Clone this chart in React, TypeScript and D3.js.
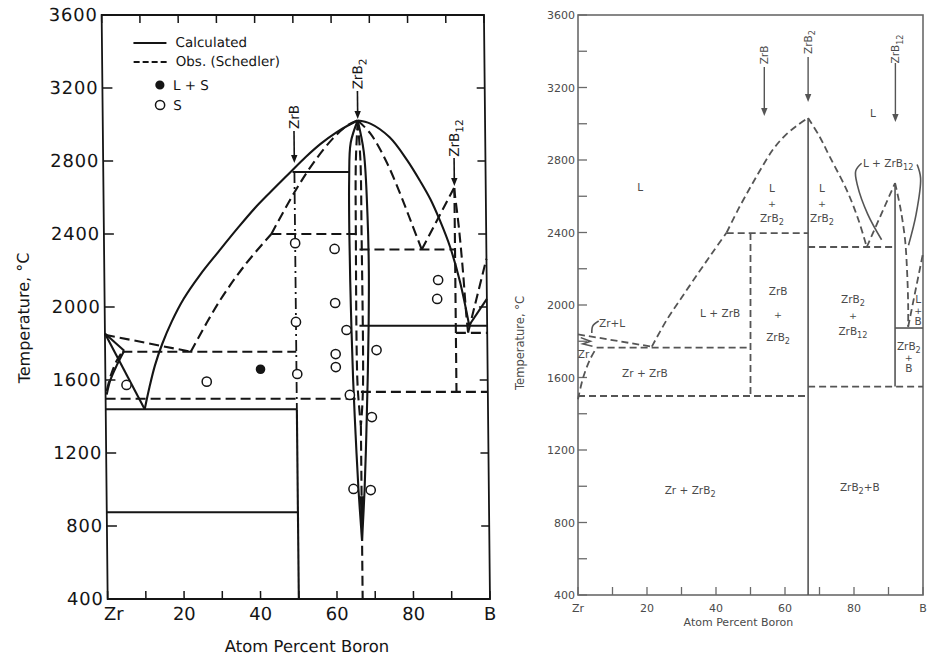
import React from 'react';
import * as d3 from 'd3';

type P = [number, number];

// ---------- axes ----------
const tempTicks = [400, 800, 1200, 1600, 2000, 2400, 2800, 3200, 3600];
const tempMinor = d3.range(400, 3601, 200);
const compTicks = [0, 20, 40, 60, 80, 100];
const compTickText = ['Zr', '20', '40', '60', '80', 'B'];
const compMinor = d3.range(0, 101, 10);

// ---------- left diagram: calculated boundaries (solid) ----------
const calcLiqZr: P[] = [[0, 1855], [10.2, 1440]];
const calcSolZr: P[] = [[0, 1855], [5, 1760]];
const calcSolvZr: P[] = [[5, 1760], [3, 1680], [1.3, 1600], [0.3, 1520]];
const calcLiqZrB2: P[] = [[10.2, 1440], [11.5, 1560], [13, 1680], [15, 1800], [17.5, 1920], [20.7, 2045], [25, 2175], [30, 2305], [35, 2432], [40, 2552], [45, 2657], [49, 2740], [53, 2822], [57, 2895], [61, 2955], [64, 2993], [66.7, 3022]];
const calcLiqB: P[] = [[66.7, 3022], [70, 3005], [75, 2930], [79.5, 2805], [83, 2685], [85.5, 2590], [88, 2470], [90.5, 2330], [93, 2140], [95.3, 1900]];
const calcLiqBEnd: P[] = [[95.3, 1900], [100, 2045]];
const calcPeritectic: P[] = [[49.5, 2740], [64.3, 2740]];
const calcZrBHigh: P[] = [[50, 2740], [50, 1440]];
const calcZrBLow: P[] = [[50, 1440], [50, 400]];
const calcEutectic: P[] = [[0, 1440], [50, 1440]];
const calcTransition: P[] = [[0, 875], [50, 875]];
const calcLensL: P[] = [[66.7, 3022], [64.8, 2900], [64.3, 2700], [64.2, 2400], [64.4, 2000], [64.8, 1600], [65.3, 1300], [65.9, 1000], [66.7, 720]];
const calcLensR: P[] = [[66.7, 3022], [68.2, 2850], [69, 2500], [69.2, 2200], [69, 1900], [68.6, 1600], [68.1, 1300], [67.5, 1000], [66.7, 720]];
const calcEutecticB: P[] = [[66.6, 1897], [100, 1897]];
const calcWedge: P[] = [[66.2, 960], [67.2, 960], [66.7, 720]];

// ---------- left diagram: observed boundaries, Schedler (dashed) ----------
const obsLiqZr: P[] = [[0, 1848], [22.4, 1755]];
const obsSolZr: P[] = [[0.3, 1540], [1.5, 1630], [3, 1705], [4.5, 1755]];
const obsLiqLow: P[] = [[22.4, 1755], [30, 2030], [37, 2235], [43.8, 2400]];
const obsLiqHigh: P[] = [[43.8, 2400], [50, 2630], [55, 2790], [60, 2920], [64, 2995], [66.7, 3022]];
const obsPeritectic: P[] = [[43.8, 2400], [66.3, 2400]];
const obsEutectic: P[] = [[4.5, 1755], [50, 1755]];
const obsLow: P[] = [[0, 1497], [66.5, 1497]];
const obsZrB2A: P[] = [[66.7, 3022], [66.1, 2800], [65.9, 2400], [65.9, 1600], [66.3, 1450], [66.7, 1350]];
const obsZrB2B: P[] = [[66.7, 3022], [67.3, 2800], [67.4, 2400], [67.4, 1600], [67.1, 1450], [66.7, 1350]];
const obsZrB2Stem: P[] = [[66.7, 1350], [66.7, 400]];
const obsLiqB: P[] = [[66.7, 3022], [70, 2950], [74, 2800], [77.8, 2610], [80.5, 2460], [83.1, 2315]];
const obsZrB12L: P[] = [[83.1, 2315], [91.7, 2652]];
const obsPeritecticB: P[] = [[66.8, 2315], [91.8, 2315]];
const obsZrB12V: P[] = [[91.8, 2652], [91.8, 1535]];
const obsZrB12R: P[] = [[91.7, 2652], [92.8, 2450], [93.8, 2200], [94.6, 1950], [95, 1860]];
const obsLiqBEnd: P[] = [[95, 1860], [100, 2265]];
const obsEutecticB: P[] = [[91.8, 1858], [100, 1858]];
const obsLowB: P[] = [[66.8, 1535], [100, 1535]];

// ---------- left diagram: experimental points ----------
const solidOnly: P[] = [
  [5.5, 1573], [26.5, 1591], [50, 2350], [60.3, 2318], [60.3, 2022], [50, 1918],
  [63.2, 1874], [71, 1764], [60.3, 1742], [60.3, 1671], [50.2, 1633], [63.9, 1518],
  [69.6, 1397], [87.3, 2148], [87, 2044], [64.6, 1003], [69.1, 997],
];
const liquidPlusSolid: P[] = [[40.6, 1659]];

const leftCompounds = [
  { name: 'ZrB', at: 50 },
  { name: 'ZrB2', at: 66.7 },
  { name: 'ZrB12', at: 91.8 },
];

// ---------- right diagram ----------
const rLiqZr: P[] = [[0, 1838], [21.4, 1770]];
const rSolZr: P[] = [[0, 1480], [1.5, 1600], [3.5, 1700], [5.4, 1765]];
const rZrCorner: P[] = [[0.8, 1820], [3.6, 1800], [1.4, 1785], [4.2, 1772]];
const rLiqLow: P[] = [[21.4, 1770], [25.7, 1917], [30, 2040], [35, 2180], [39, 2290], [43.1, 2400]];
const rLiqHigh: P[] = [[43.1, 2400], [46.5, 2530], [50, 2651], [53, 2750], [56.6, 2860], [60, 2935], [63.5, 2990], [66.7, 3032]];
const rPeritectic: P[] = [[43.1, 2397], [66.7, 2397]];
const rZrB: P[] = [[50, 2397], [50, 1498]];
const rLow: P[] = [[0, 1498], [66.7, 1498]];
const rEutectic: P[] = [[5.4, 1765], [50, 1765]];
const rZrB2: P[] = [[66.7, 3032], [66.7, 400]];
const rLiqB: P[] = [[66.7, 3032], [70, 2930], [73, 2817], [77.9, 2634], [81.3, 2469], [83.7, 2320]];
const rZrB12L: P[] = [[83.7, 2320], [91.9, 2673]];
const rPeritecticB: P[] = [[66.7, 2320], [91.9, 2320]];
const rZrB12: P[] = [[91.9, 2673], [91.9, 1550]];
const rZrB12R: P[] = [[91.9, 2673], [93.5, 2530], [94.8, 2360], [95.4, 2180], [95.7, 2000], [95.7, 1880]];
const rLiqBEnd: P[] = [[95.7, 1880], [100, 2285]];
const rEutecticB: P[] = [[91.9, 1873], [100, 1873]];
const rLowB: P[] = [[66.7, 1550], [100, 1550]];
const rLassoL: P[] = [[82.2, 2782], [80.5, 2740], [81, 2660], [84, 2500], [88, 2360]];
const rLassoR: P[] = [[98.3, 2775], [99.3, 2700], [98, 2500], [95.8, 2330]];
const rZrLHook: P[] = [[6, 1912], [4.3, 1885], [4, 1845]];

const rightCompounds = [
  { name: 'ZrB', at: 54 },
  { name: 'ZrB2', at: 66.7 },
  { name: 'ZrB12', at: 92 },
];

const regionLabels = [
  { lines: ['L'], p: 18, t: 2651, lead: 15 },
  { lines: ['L'], p: 85.5, t: 3059, lead: 15 },
  { lines: ['L', '+', 'ZrB2'], p: 56.2, t: 2563, lead: 15 },
  { lines: ['L', '+', 'ZrB2'], p: 70.7, t: 2563, lead: 15 },
  { lines: ['L + ZrB'], p: 41.2, t: 1956, lead: 15 },
  { lines: ['ZrB', '+', 'ZrB2'], p: 58, t: 1950, lead: 23 },
  { lines: ['ZrB2', '+', 'ZrB12'], p: 79.7, t: 1945, lead: 16 },
  { lines: ['Zr + ZrB'], p: 19.4, t: 1625, lead: 15 },
  { lines: ['Zr + ZrB2'], p: 32.5, t: 979, lead: 15 },
  { lines: ['ZrB2+B'], p: 81.7, t: 996, lead: 15 },
  { lines: ['L', '+', 'B'], p: 98.6, t: 1972, lead: 11 },
  { lines: ['ZrB2', '+', 'B'], p: 95.9, t: 1713, lead: 11 },
  { lines: ['L + ZrB12'], p: 89.9, t: 2783, lead: 15 },
  { lines: ['Zr+L'], p: 9.9, t: 1900, lead: 15 },
  { lines: ['Zr'], p: 1.6, t: 1730, lead: 15 },
];

// chemical formula with subscripted digits
function Chem({ s, size }: { s: string; size: number }) {
  const parts = s.match(/\d+|\D+/g) || [];
  let sub = false;
  return (
    <>
      {parts.map((part, i) => {
        const isSub = /^\d+$/.test(part);
        const dy = isSub ? (sub ? 0 : size * 0.32) : sub ? -size * 0.32 : 0;
        sub = isSub;
        return (
          <tspan key={i} dy={dy} fontSize={isSub ? size * 0.78 : size}>
            {part}
          </tspan>
        );
      })}
    </>
  );
}

export default function App() {
  const xL = d3.scaleLinear().domain([0, 100]).range([101.5, 483.8]);
  const yL = d3.scaleLinear().domain([400, 3600]).range([599, 15]);
  const xR = d3.scaleLinear().domain([0, 100]).range([578, 923]);
  const yR = d3.scaleLinear().domain([400, 3600]).range([595, 15]);

  const smooth = d3.curveCatmullRom.alpha(0.5);
  const lin = d3.curveLinear;
  const mk = (xs: d3.ScaleLinear<number, number>, ys: d3.ScaleLinear<number, number>) =>
    (pts: P[], curve: d3.CurveFactory = lin) =>
      d3.line<P>().x((d) => xs(d[0])).y((d) => ys(d[1])).curve(curve)(pts) || '';
  const pL = mk(xL, yL);
  const pR = mk(xR, yR);

  const ink = '#151515';
  const gray = '#555';
  const dashL = '10 5';
  const dashR = '7 4';

  const leftSolid: [P[], d3.CurveFactory][] = [
    [calcLiqZr, lin], [calcSolZr, lin], [calcSolvZr, smooth], [calcLiqZrB2, smooth],
    [calcLiqB, smooth], [calcLiqBEnd, lin], [calcPeritectic, lin], [calcZrBLow, lin],
    [calcEutectic, lin], [calcTransition, lin], [calcLensL, smooth], [calcLensR, smooth],
    [calcEutecticB, lin],
  ];
  const leftDashed: [P[], d3.CurveFactory][] = [
    [obsLiqZr, lin], [obsSolZr, smooth], [obsLiqLow, smooth], [obsLiqHigh, smooth],
    [obsPeritectic, lin], [obsEutectic, lin], [obsLow, lin], [obsZrB2A, smooth],
    [obsZrB2B, smooth], [obsZrB2Stem, lin], [obsLiqB, smooth], [obsZrB12L, lin],
    [obsPeritecticB, lin], [obsZrB12V, lin], [obsZrB12R, smooth], [obsLiqBEnd, lin],
    [obsEutecticB, lin], [obsLowB, lin],
  ];
  const rightSolid: [P[], d3.CurveFactory][] = [
    [rZrB2, lin], [rZrB12, lin], [rEutecticB, lin], [rZrCorner, lin],
    [rLassoL, smooth], [rLassoR, smooth], [rZrLHook, smooth],
  ];
  const rightDashed: [P[], d3.CurveFactory][] = [
    [rLiqZr, lin], [rSolZr, smooth], [rLiqLow, smooth], [rLiqHigh, smooth],
    [rPeritectic, lin], [rZrB, lin], [rLow, lin], [rEutectic, lin], [rLiqB, smooth],
    [rZrB12L, lin], [rPeritecticB, lin], [rZrB12R, smooth], [rLiqBEnd, lin], [rLowB, lin],
  ];

  const lx0 = xL(0), lx1 = xL(100), ly0 = yL(400), ly1 = yL(3600);
  const rx0 = xR(0), rx1 = xR(100), ry0 = yR(400), ry1 = yR(3600);

  // compound markers above each diagram: [label centre y, arrow start y, arrow tip y]
  const leftArrowY: Record<string, number[]> = {
    ZrB: [117, 131, 163],
    ZrB2: [74, 91, 119],
    ZrB12: [138, 158, 186],
  };
  const rightArrowY: Record<string, number[]> = {
    ZrB: [55, 67, 116],
    ZrB2: [42, 57, 102],
    ZrB12: [49, 63, 122],
  };

  const arrow = (x: number, y0: number, y1: number, color: string, w: number) => (
    <g>
      <line x1={x} x2={x} y1={y0} y2={y1 - 6} stroke={color} strokeWidth={w} />
      <path d={`M${x - 3.2},${y1 - 8}L${x + 3.2},${y1 - 8}L${x},${y1}Z`} fill={color} />
    </g>
  );

  return (
    <svg
      width={931}
      height={661}
      style={{ position: 'absolute', left: 0, top: 0, background: '#fff' }}
      fontFamily="'DejaVu Sans', 'Liberation Sans', sans-serif"
    >
      {/* ================= left: calculated vs observed ================= */}
      <g transform="skewX(0.59)">
        <rect x={lx0} y={ly1} width={lx1 - lx0} height={ly0 - ly1} fill="none" stroke={ink} strokeWidth={1.8} />
        {tempTicks.map((t) => (
          <g key={'lt' + t}>
            <line x1={lx0} x2={lx0 + 10} y1={yL(t)} y2={yL(t)} stroke={ink} strokeWidth={1.5} />
            <line x1={lx1 - 8} x2={lx1} y1={yL(t)} y2={yL(t)} stroke={ink} strokeWidth={1.5} />
            <text x={lx0 - 4} y={yL(t) + 6.5} textAnchor="end" fontSize={18} letterSpacing={0.8} fill={ink}>
              {t}
            </text>
          </g>
        ))}
        {compMinor.map((c) => (
          <g key={'lc' + c}>
            <line x1={xL(c)} x2={xL(c)} y1={ly0} y2={ly0 - 8} stroke={ink} strokeWidth={1.5} />
            <line x1={xL(c)} x2={xL(c)} y1={ly1} y2={ly1 + 8} stroke={ink} strokeWidth={1.5} />
          </g>
        ))}
        {compTicks.map((c, i) => (
          <text key={'lx' + c} x={xL(c) + (c === 0 ? 6 : 0)} y={620} textAnchor="middle" fontSize={18} fill={ink}>
            {compTickText[i]}
          </text>
        ))}
        <text x={xL(52)} y={652} textAnchor="middle" fontSize={16.5} fill={ink}>
          Atom Percent Boron
        </text>
        <text transform="translate(26,318) rotate(-90)" textAnchor="middle" fontSize={16} fill={ink}>
          Temperature, °C
        </text>

        {/* legend */}
        <line x1={133} x2={166} y1={43} y2={43} stroke={ink} strokeWidth={1.8} />
        <text x={175} y={47.5} fontSize={13.5} fill={ink}>Calculated</text>
        <line x1={133} x2={166} y1={62} y2={62} stroke={ink} strokeWidth={1.8} strokeDasharray="6 3" />
        <text x={175} y={66.5} fontSize={13.5} fill={ink}>Obs. (Schedler)</text>
        <circle cx={159} cy={85} r={4.6} fill={ink} />
        <text x={172} y={90} fontSize={13.5} fill={ink}>L + S</text>
        <circle cx={159} cy={105} r={4.6} fill="none" stroke={ink} strokeWidth={1.5} />
        <text x={172} y={110} fontSize={13.5} fill={ink}>S</text>

        {/* phase boundaries */}
        <path d={pL(calcWedge)} fill={ink} stroke={ink} strokeWidth={1} />
        {leftSolid.map(([pts, c], i) => (
          <path key={'ls' + i} d={pL(pts, c)} fill="none" stroke={ink} strokeWidth={2.1} />
        ))}
        <path d={pL(calcZrBHigh)} fill="none" stroke={ink} strokeWidth={1.8} strokeDasharray="11 4 2 4" />
        {leftDashed.map(([pts, c], i) => (
          <path key={'ld' + i} d={pL(pts, c)} fill="none" stroke={ink} strokeWidth={2.1} strokeDasharray={dashL} />
        ))}

        {/* experimental points */}
        {solidOnly.map((d, i) => (
          <circle key={'so' + i} cx={xL(d[0])} cy={yL(d[1])} r={4.6} fill="#fff" stroke={ink} strokeWidth={1.5} />
        ))}
        {liquidPlusSolid.map((d, i) => (
          <circle key={'lp' + i} cx={xL(d[0])} cy={yL(d[1])} r={4.8} fill={ink} />
        ))}

        {/* compound markers */}
        {leftCompounds.map((c) => {
          const [ty, a0, a1] = leftArrowY[c.name];
          const x = xL(c.at);
          return (
            <g key={'lcm' + c.name}>
              <text transform={`translate(${x + 5},${ty}) rotate(-90)`} textAnchor="middle" fontSize={13.5} fill={ink}>
                <Chem s={c.name} size={13.5} />
              </text>
              {arrow(x, a0, a1, ink, 1.6)}
            </g>
          );
        })}
      </g>

      {/* ================= right: assessed diagram ================= */}
      <g>
        <rect x={rx0} y={ry1} width={rx1 - rx0} height={ry0 - ry1} fill="none" stroke="#6a6a6a" strokeWidth={1.6} />
        {tempMinor.map((t) => (
          <line key={'rm' + t} x1={rx0} x2={rx0 + 9} y1={yR(t)} y2={yR(t)} stroke="#6a6a6a" strokeWidth={1.3} />
        ))}
        {tempTicks.map((t) => (
          <text key={'rt' + t} x={rx0 - 3} y={yR(t) + 4} textAnchor="end" fontSize={11} fill="#4a4a4a">
            {t}
          </text>
        ))}
        {compMinor.map((c) => (
          <line key={'rc' + c} x1={xR(c)} x2={xR(c)} y1={ry0} y2={ry0 - 8} stroke="#6a6a6a" strokeWidth={1.3} />
        ))}
        {compTicks.map((c, i) => (
          <text key={'rx' + c} x={xR(c)} y={612} textAnchor="middle" fontSize={11} fill="#4a4a4a">
            {compTickText[i]}
          </text>
        ))}
        <text x={xR(46.5)} y={626} textAnchor="middle" fontSize={11} fill="#4a4a4a">
          Atom  Percent Boron
        </text>
        <text transform="translate(524,343) rotate(-90)" textAnchor="middle" fontSize={11.5} fill="#4a4a4a">
          Temperature, °C
        </text>

        {rightSolid.map(([pts, c], i) => (
          <path key={'rs' + i} d={pR(pts, c)} fill="none" stroke={gray} strokeWidth={1.6} />
        ))}
        {rightDashed.map(([pts, c], i) => (
          <path key={'rd' + i} d={pR(pts, c)} fill="none" stroke={gray} strokeWidth={1.8} strokeDasharray={dashR} />
        ))}

        {rightCompounds.map((c) => {
          const [ty, a0, a1] = rightArrowY[c.name];
          const x = xR(c.at);
          return (
            <g key={'rcm' + c.name}>
              <text transform={`translate(${x + 4},${ty}) rotate(-90)`} textAnchor="middle" fontSize={10.5} fill="#4a4a4a">
                <Chem s={c.name} size={10.5} />
              </text>
              {arrow(x, a0, a1, gray, 1.4)}
            </g>
          );
        })}

        {regionLabels.map((lab, i) => {
          const cx = xR(lab.p);
          const cy = yR(lab.t);
          const n = lab.lines.length;
          return (
            <g key={'rl' + i}>
              {lab.lines.map((ln, j) => (
                <text
                  key={j}
                  x={cx}
                  y={cy + (j - (n - 1) / 2) * lab.lead + 4}
                  textAnchor="middle"
                  fontSize={ln === '+' ? 9.5 : 10.5}
                  fill="#4a4a4a"
                >
                  <Chem s={ln} size={ln === '+' ? 9.5 : 10.5} />
                </text>
              ))}
            </g>
          );
        })}
      </g>
    </svg>
  );
}
